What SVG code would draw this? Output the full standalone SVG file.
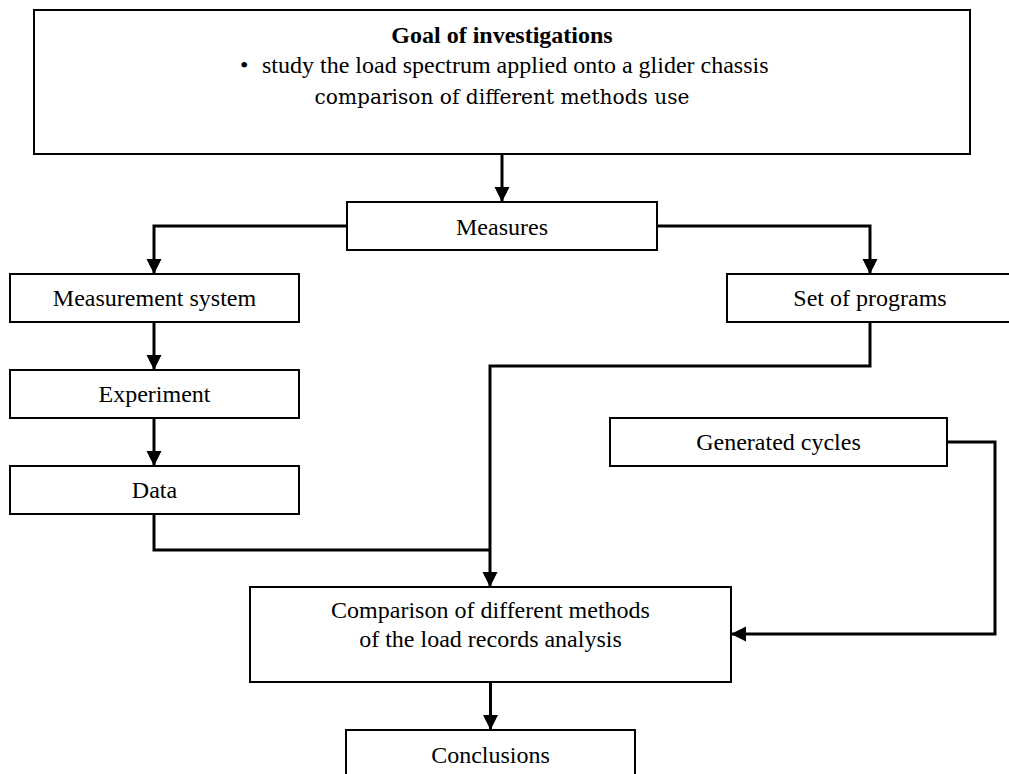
<svg xmlns="http://www.w3.org/2000/svg" width="1009" height="774" viewBox="0 0 1009 774">
  <style>
    .box { fill: #ffffff; stroke: #000000; stroke-width: 2; }
    .lbl { font-family: "Liberation Serif", "Times New Roman", serif; font-size: 24px; fill: #000000; text-anchor: middle; }
    .conn { fill: none; stroke: #000000; stroke-width: 3; }
  </style>
  <defs>
    <marker id="arr" markerUnits="userSpaceOnUse" markerWidth="16" markerHeight="16" viewBox="0 0 16 16" refX="15" refY="7.5" orient="auto">
      <path d="M0,0 L15,7.5 L0,15 z" fill="#000000"/>
    </marker>
  </defs>
  <rect width="1009" height="774" fill="#ffffff"/>

  <g id="goal">
    <rect class="box" x="34" y="10" width="936" height="144"/>
    <text class="lbl" x="502" y="43" font-weight="bold">Goal of investigations</text>
    <text class="lbl" x="240" y="73" style="text-anchor:start">•</text>
    <text class="lbl" x="262" y="73" style="text-anchor:start">study the load spectrum applied onto a glider chassis</text>
    <text x="502" y="104" text-anchor="middle" font-family="'DejaVu Serif', 'Liberation Serif', serif" font-size="21" textLength="375" lengthAdjust="spacingAndGlyphs" fill="#000000">comparison of different methods use</text>
  </g>

  <g id="measures">
    <rect class="box" x="347" y="202" width="310" height="48"/>
    <text class="lbl" x="502" y="235">Measures</text>
  </g>

  <g id="measurement-system">
    <rect class="box" x="10" y="274" width="289" height="48"/>
    <text class="lbl" x="154.5" y="306">Measurement system</text>
  </g>

  <g id="set-of-programs">
    <rect class="box" x="727" y="274" width="286" height="48"/>
    <text class="lbl" x="870" y="306">Set of programs</text>
  </g>

  <g id="experiment">
    <rect class="box" x="10" y="370" width="289" height="48"/>
    <text class="lbl" x="154.5" y="402">Experiment</text>
  </g>

  <g id="data">
    <rect class="box" x="10" y="466" width="289" height="48"/>
    <text class="lbl" x="154.5" y="498">Data</text>
  </g>

  <g id="generated-cycles">
    <rect class="box" x="610" y="418" width="337" height="48"/>
    <text class="lbl" x="778.5" y="450">Generated cycles</text>
  </g>

  <g id="comparison">
    <rect class="box" x="250" y="587" width="481" height="95"/>
    <text class="lbl" x="490.5" y="618">Comparison of different methods</text>
    <text class="lbl" x="490.5" y="647">of the load records analysis</text>
  </g>

  <g id="conclusions">
    <rect class="box" x="346" y="730" width="289" height="60"/>
    <text class="lbl" x="490.5" y="763">Conclusions</text>
  </g>

  <g id="connectors">
    <path class="conn" d="M502,154 V202" marker-end="url(#arr)"/>
    <path class="conn" d="M347,226 H154 V274" marker-end="url(#arr)"/>
    <path class="conn" d="M657,226 H870 V274" marker-end="url(#arr)"/>
    <path class="conn" d="M154,322 V370" marker-end="url(#arr)"/>
    <path class="conn" d="M154,418 V466" marker-end="url(#arr)"/>
    <path class="conn" d="M870,322 V366 H490 V587" marker-end="url(#arr)"/>
    <path class="conn" d="M154,514 V550 H490"/>
    <path class="conn" d="M947,442 H995 V634 H731" marker-end="url(#arr)"/>
    <path class="conn" d="M490.5,682 V730" marker-end="url(#arr)"/>
  </g>
</svg>
